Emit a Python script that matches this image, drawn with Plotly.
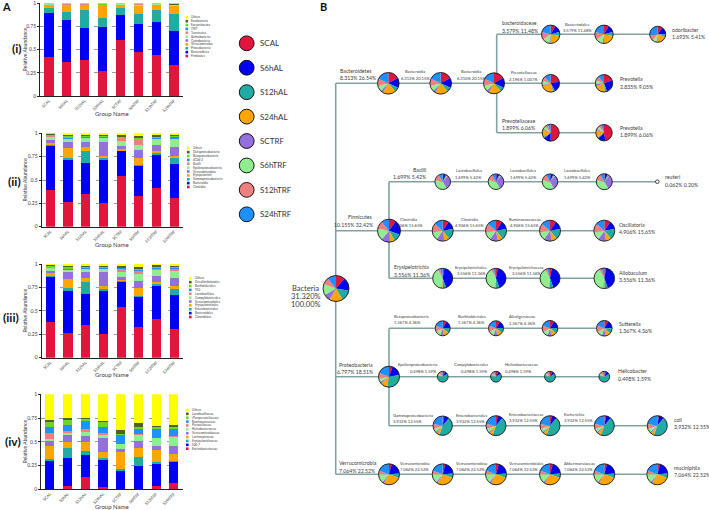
import plotly.graph_objects as go

W, H = 709, 510

# ---------------- data ----------------
GROUPS = ["SCAL", "S6hAL", "S12hAL", "S24hAL", "SCTRF", "S6hTRF", "S12hTRF", "S24hTRF"]
GROUP_COLORS = ["#E0163D", "#0000F5", "#20ABA3", "#FFA500", "#9370DB", "#90EE90", "#F08080", "#1E90FF"]
EXTRA_COLORS = ["#6FD42A", "#4E6228", "#FFFF00"]
TAXON_COLORS = GROUP_COLORS + EXTRA_COLORS

Y_TICK_VALS = [0, 0.25, 0.5, 0.75, 1]
Y_TICK_TEXT = ["0", "0.25", "0.5", "0.75", "1"]
PANEL_TITLES = ["(i)", "(ii)", "(iii)", "(iv)"]

# (i) phylum level, bottom -> top
PHYLUM_NAMES = ["Firmicutes", "Bacteroidetes", "Proteobacteria", "Verrucomicrobia", "Cyanobacteria",
                "Actinobacteria", "Tenericutes", "TM7", "Euryarchaeota", "Fusobacteria", "Others"]
PHYLUM_VALUES = [
    [0.42, 0.37, 0.39, 0.27, 0.60, 0.47, 0.44, 0.33],
    [0.48, 0.45, 0.34, 0.47, 0.27, 0.31, 0.36, 0.37],
    [0.05, 0.09, 0.20, 0.10, 0.08, 0.11, 0.13, 0.18],
    [0.035, 0.07, 0.05, 0.14, 0.03, 0.08, 0.05, 0.09],
    [0.002, 0.003, 0.003, 0.002, 0.002, 0.003, 0.003, 0.004],
    [0.004, 0.005, 0.004, 0.003, 0.012, 0.016, 0.008, 0.006],
    [0.003, 0.003, 0.004, 0.002, 0.002, 0.003, 0.003, 0.004],
    [0.002, 0.003, 0.003, 0.002, 0.001, 0.002, 0.002, 0.003],
    [0.001, 0.002, 0.002, 0.001, 0.001, 0.002, 0.001, 0.002],
    [0.002, 0.003, 0.003, 0.006, 0.001, 0.002, 0.002, 0.008],
    [0.001, 0.001, 0.001, 0.004, 0.001, 0.002, 0.001, 0.003],
]

# (ii) class level
CLASS_NAMES = ["Clostridia", "Bacteroidia", "Gammaproteobacteria", "Erysipelotrichi", "Verrucomicrobiae",
               "Epsilonproteobacteria", "Bacilli", "4C0d-2", "Betaproteobacteria", "Deltaproteobacteria", "Others"]
CLASS_VALUES = [
    [0.39, 0.26, 0.35, 0.25, 0.54, 0.33, 0.41, 0.31],
    [0.48, 0.45, 0.33, 0.47, 0.27, 0.32, 0.36, 0.36],
    [0.01, 0.03, 0.13, 0.02, 0.005, 0.01, 0.02, 0.07],
    [0.02, 0.10, 0.04, 0.02, 0.015, 0.08, 0.02, 0.02],
    [0.03, 0.07, 0.06, 0.15, 0.03, 0.08, 0.06, 0.09],
    [0.03, 0.03, 0.04, 0.04, 0.06, 0.06, 0.07, 0.09],
    [0.01, 0.005, 0.005, 0.005, 0.03, 0.05, 0.005, 0.005],
    [0.005, 0.005, 0.005, 0.005, 0.005, 0.005, 0.005, 0.015],
    [0.005, 0.02, 0.01, 0.01, 0.005, 0.01, 0.01, 0.01],
    [0.01, 0.01, 0.01, 0.01, 0.02, 0.025, 0.02, 0.01],
    [0.01, 0.02, 0.02, 0.02, 0.02, 0.03, 0.02, 0.02],
]

# (iii) order level
ORDER_NAMES = ["Clostridiales", "Bacteroidales", "Enterobacteriales", "Erysipelotrichales", "Verrucomicrobiales",
               "Campylobacterales", "Lactobacillales", "YS2", "Burkholderiales", "Desulfovibrionales", "Others"]
ORDER_VALUES = [
    [0.38, 0.26, 0.35, 0.25, 0.54, 0.33, 0.41, 0.31],
    [0.49, 0.45, 0.33, 0.47, 0.27, 0.32, 0.36, 0.36],
    [0.01, 0.03, 0.13, 0.02, 0.01, 0.01, 0.02, 0.07],
    [0.02, 0.10, 0.04, 0.02, 0.01, 0.08, 0.02, 0.02],
    [0.03, 0.07, 0.06, 0.15, 0.03, 0.08, 0.06, 0.09],
    [0.03, 0.03, 0.04, 0.04, 0.05, 0.07, 0.07, 0.08],
    [0.01, 0.005, 0.005, 0.005, 0.04, 0.04, 0.01, 0.02],
    [0.005, 0.005, 0.005, 0.005, 0.01, 0.01, 0.01, 0.01],
    [0.005, 0.02, 0.01, 0.01, 0.005, 0.01, 0.01, 0.01],
    [0.01, 0.01, 0.01, 0.01, 0.02, 0.02, 0.02, 0.01],
    [0.01, 0.02, 0.02, 0.02, 0.015, 0.03, 0.01, 0.02],
]

# (iv) family level
FAMILY_NAMES = ["Enterobacteriaceae", "S24-7", "Erysipelotrichaceae", "Lachnospiraceae", "Verrucomicrobiaceae",
                "Helicobacteraceae", "Prevotellaceae", "Ruminococcaceae", "[Paraprevotellaceae]",
                "Lactobacillaceae", "Others"]
FAMILY_VALUES = [
    [0.00, 0.03, 0.13, 0.02, 0.00, 0.00, 0.03, 0.07],
    [0.30, 0.30, 0.23, 0.29, 0.19, 0.25, 0.24, 0.22],
    [0.02, 0.10, 0.04, 0.02, 0.02, 0.09, 0.02, 0.01],
    [0.14, 0.07, 0.10, 0.06, 0.18, 0.09, 0.12, 0.07],
    [0.05, 0.07, 0.06, 0.15, 0.03, 0.08, 0.05, 0.09],
    [0.02, 0.02, 0.05, 0.03, 0.06, 0.06, 0.08, 0.09],
    [0.06, 0.02, 0.02, 0.02, 0.00, 0.01, 0.00, 0.01],
    [0.07, 0.07, 0.09, 0.07, 0.09, 0.06, 0.10, 0.07],
    [0.05, 0.05, 0.02, 0.05, 0.01, 0.02, 0.02, 0.03],
    [0.02, 0.02, 0.01, 0.01, 0.04, 0.04, 0.01, 0.02],
    [0.27, 0.25, 0.25, 0.28, 0.38, 0.30, 0.33, 0.32],
]

CHARTS = [(PHYLUM_NAMES, PHYLUM_VALUES), (CLASS_NAMES, CLASS_VALUES),
          (ORDER_NAMES, ORDER_VALUES), (FAMILY_NAMES, FAMILY_VALUES)]

# pie shares per group (panel B)
PIE_BACTERIA = [40, 60, 50, 60, 30, 50, 30, 40]
PIE_BACTEROIDETES = [60, 55, 25, 70, 15, 30, 40, 65]
PIE_BACTEROIDACEAE = [30, 45, 25, 80, 10, 45, 50, 75]
PIE_ODORIBACTER = [35, 55, 20, 70, 10, 30, 40, 100]
PIE_PREVOTELLACEAE_A = [80, 70, 15, 85, 10, 25, 30, 45]
PIE_PREVOTELLA_A = [70, 90, 15, 75, 15, 25, 30, 40]
PIE_PREVOTELLACEAE_B = [180, 50, 10, 50, 10, 20, 20, 20]
PIE_PREVOTELLA_B = [170, 55, 10, 55, 10, 20, 20, 20]
PIE_FIRMICUTES = [35, 75, 40, 25, 45, 60, 40, 40]
PIE_BACILLI = [5, 20, 10, 5, 110, 130, 50, 30]
PIE_REUTERI = [5, 20, 10, 5, 110, 130, 50, 30]
PIE_CLOSTRIDIA = [35, 45, 60, 30, 45, 45, 50, 50]
PIE_ERYSIPELOTRICHIA = [10, 150, 20, 5, 5, 140, 15, 15]
PIE_BETAPROTEO = [30, 60, 40, 40, 30, 40, 50, 70]
PIE_PROTEOBACTERIA = [20, 60, 110, 40, 10, 20, 30, 70]
PIE_EPSILON = [25, 35, 220, 10, 10, 10, 30, 20]
PIE_GAMMA = [10, 30, 160, 20, 10, 20, 30, 80]
PIE_VERRUCO = [15, 70, 25, 100, 10, 50, 20, 70]

TREE_NAMES = ["Bacteria", "Bacteroidetes", "Bacteroidia", "Bacteroidia", "bacteroidaceae", "Bacteriodales",
              "odoribacter", "Prevotellaceae", "Prevotella", "Prevotellaceae", "Prevotella",
              "Firmicutes", "Bacilli", "Lactobacillales", "Lactobacillales", "Lactobacillales", "reuteri",
              "Clostridia", "Clostridia", "Ruminococcaceae", "Oscillatoria",
              "Erysipelotrichia", "Erysipelotrichales", "Erysipelotrichaceae", "Allobaculum",
              "Betaproteobacteria", "Burkholderiales", "Alcaligenaceae", "Sutterella",
              "Proteobacteria", "Epsilonproteobacteria", "Campylobacterales", "Helicobacteraceae", "Helicobacter",
              "Gammaproteobacteria", "Enterobacteriales", "Enterobacteriaceae", "Escherichia", "coli",
              "Verrucomicrobia", "Verrucomicrobia", "Verrucomicrobiae", "Verrucomicrobiales",
              "Akkermansiaceae", "muciniphila"]
TREE_PCTS = ["31.320%<br>100.00%", "8.313% 26.54%", "6.313% 20.15%", "6.310% 20.15%", "3.579% 11.48%",
             "3.579% 11.48%", "1.693% 5.41%", "2.196% 1.007%", "2.835% 9.05%", "1.899% 6.06%", "1.899% 6.06%",
             "10.155% 32.42%", "1.699% 5.42%", "1.699% 5.42%", "1.699% 5.42%", "1.699% 5.42%", "0.062% 0.20%",
             "4.906% 15.65%", "4.906% 15.65%", "4.906% 15.65%", "4.906% 15.65%",
             "3.556% 11.36%", "3.556% 11.36%", "3.556% 11.36%", "3.556% 11.36%",
             "1.367% 4.36%", "1.367% 4.36%", "1.367% 4.36%", "1.367% 4.36%",
             "6.797% 18.51%", "0.498% 1.59%", "0.498% 1.59%", "0.498% 1.59%", "0.498% 1.59%",
             "3.932% 12.55%", "3.932% 12.55%", "3.932% 12.55%", "3.932% 12.55%", "3.932% 12.55%",
             "7.064% 22.52%", "7.064% 22.52%", "7.064% 22.52%", "7.064% 22.52%", "7.064% 22.52%", "7.064% 22.52%"]
TREE_SHARES = [PIE_BACTERIA, PIE_BACTEROIDETES, PIE_BACTEROIDETES, PIE_BACTEROIDETES, PIE_BACTEROIDACEAE,
               PIE_BACTEROIDACEAE, PIE_ODORIBACTER, PIE_PREVOTELLACEAE_A, PIE_PREVOTELLA_A,
               PIE_PREVOTELLACEAE_B, PIE_PREVOTELLA_B,
               PIE_FIRMICUTES, PIE_BACILLI, PIE_BACILLI, PIE_BACILLI, PIE_BACILLI, PIE_REUTERI,
               PIE_CLOSTRIDIA, PIE_CLOSTRIDIA, PIE_CLOSTRIDIA, PIE_CLOSTRIDIA,
               PIE_ERYSIPELOTRICHIA, PIE_ERYSIPELOTRICHIA, PIE_ERYSIPELOTRICHIA, PIE_ERYSIPELOTRICHIA,
               PIE_BETAPROTEO, PIE_BETAPROTEO, PIE_BETAPROTEO, PIE_BETAPROTEO,
               PIE_PROTEOBACTERIA, PIE_EPSILON, PIE_EPSILON, PIE_EPSILON, PIE_EPSILON,
               PIE_GAMMA, PIE_GAMMA, PIE_GAMMA, PIE_GAMMA, PIE_GAMMA,
               PIE_VERRUCO, PIE_VERRUCO, PIE_VERRUCO, PIE_VERRUCO, PIE_VERRUCO, PIE_VERRUCO]

# ---------------- layout helpers (pixel -> paper) ----------------
def px(x):
    return x / W


def py(y):
    return 1 - y / H


FONT = "Lato"
TXT = "#3a3a3a"
fig = go.Figure()
shapes = []
annotations = []
layout_axes = {}


def add_text(x, y, text, size, xanchor="center", yanchor="middle", color=TXT, angle=0, family=FONT):
    annotations.append(dict(x=px(x), y=py(y), xref="paper", yref="paper", text=text, showarrow=False,
                            xanchor=xanchor, yanchor=yanchor, textangle=angle,
                            font=dict(size=size, color=color, family=family)))


# ---------------- panel A: stacked bars ----------------
CHART_BOX = [(40, 183, 3.3, 96), (41.5, 183, 133.3, 226.7), (41.5, 183, 264, 357.7), (41, 182.7, 394.3, 489.3)]
LEGEND_POS = [(185.5, 17.3), (187, 148.3), (189, 278.3), (186, 410)]
GROUPNAME_Y = [113.3, 244, 374, 506.5]
ROMAN_POS = [(16.7, 48.3), (15, 181.7), (11, 317.7), (13.3, 441.7)]

for k, ((names, vals), (x0, x1, yt, yb)) in enumerate(zip(CHARTS, CHART_BOX)):
    xa = "x" if k == 0 else f"x{k + 1}"
    ya = "y" if k == 0 else f"y{k + 1}"
    for i, (nm, v) in enumerate(zip(names, vals)):
        fig.add_trace(go.Bar(x=GROUPS, y=v, name=nm, marker=dict(color=TAXON_COLORS[i], line=dict(width=0)),
                             xaxis=xa, yaxis=ya, showlegend=False))
    xkey = "xaxis" if k == 0 else f"xaxis{k + 1}"
    ykey = "yaxis" if k == 0 else f"yaxis{k + 1}"
    layout_axes[xkey] = dict(domain=[px(x0), px(x1)], anchor=ya, showline=True, linecolor="#222",
                             linewidth=0.8, ticks="", tickangle=-45, showgrid=False, automargin=False,
                             tickfont=dict(size=4, color=TXT, family=FONT), categoryorder="array",
                             categoryarray=GROUPS)
    layout_axes[ykey] = dict(domain=[py(yb), py(yt)], anchor=xa, range=[0, 1], tickvals=Y_TICK_VALS,
                             ticktext=Y_TICK_TEXT, showline=True, linecolor="#222", linewidth=0.8,
                             ticks="outside", ticklen=2, tickwidth=0.6, tickcolor="#222", automargin=False,
                             tickfont=dict(size=5, color=TXT, family=FONT), showgrid=True,
                             gridcolor="#9a9a9a", griddash="dash", gridwidth=0.6, zeroline=False)
    # axis titles
    add_text(24.5, (yt + yb) / 2, "Relative Abundance", 5, angle=-90)
    add_text((x0 + x1) / 2, GROUPNAME_Y[k], "Group Name", 6)
    add_text(ROMAN_POS[k][0], ROMAN_POS[k][1], f"<b>{PANEL_TITLES[k]}</b>", 12, color="#111")
    # tiny legend (top -> bottom = reversed stacking order)
    lx, ly = LEGEND_POS[k]
    step = 3.87
    for j, idx in enumerate(reversed(range(len(names)))):
        cy = ly + j * step
        shapes.append(dict(type="rect", xref="paper", yref="paper", x0=px(lx), x1=px(lx + 2.6),
                           y0=py(cy + 1.3), y1=py(cy - 1.3), fillcolor=TAXON_COLORS[idx],
                           line=dict(width=0)))
        add_text(lx + 4, cy, names[idx], 3, xanchor="left")

add_text(6.7, 6.5, "<b>A</b>", 11, color="#111")
add_text(323.5, 7, "<b>B</b>", 11, color="#111")

# ---------------- group legend (middle) ----------------
for i, (g, c) in enumerate(zip(GROUPS, GROUP_COLORS)):
    cx, cy, r = 246.7, 43.3 + i * 24.43, 7.4
    shapes.append(dict(type="circle", xref="paper", yref="paper", x0=px(cx - r), x1=px(cx + r),
                       y0=py(cy + r), y1=py(cy - r), fillcolor=c, line=dict(color="#111", width=1)))
    add_text(258, cy, g, 8, xanchor="left", color="#333")

# ---------------- panel B: tree ----------------
LINE_COLOR = "#83A1A1"
TREE_SEGMENTS = [
    ((335.7, 83.3), (335.7, 474.3)),
    ((335.7, 83.3), (496.7, 83.3)),
    ((496.7, 34.3), (496.7, 132.7)),
    ((496.7, 34.3), (657.7, 34.3)),
    ((496.7, 83.3), (604, 83.3)),
    ((496.7, 132.7), (604, 132.7)),
    ((335.7, 230.7), (604.3, 230.7)),
    ((389, 181.7), (389, 278.3)),
    ((389, 181.7), (657.3, 181.7)),
    ((389, 278.3), (604.3, 278.3)),
    ((389, 328.3), (389, 425.7)),
    ((389, 328.3), (604.3, 328.3)),
    ((335.7, 376.7), (604.3, 376.7)),
    ((389, 425.7), (657.3, 425.7)),
    ((335.7, 474.3), (657.3, 474.3)),
]
for (ax, ay), (bx, by) in TREE_SEGMENTS:
    shapes.append(dict(type="line", xref="paper", yref="paper", x0=px(ax), y0=py(ay), x1=px(bx), y1=py(by),
                       line=dict(color=LINE_COLOR, width=1.6), layer="below"))

NODE_XY = [(336, 288.5), (388.3, 83.3), (440.7, 83.3), (494, 83.3), (550.7, 34.3), (604, 34.3), (657.7, 34.3),
           (550.7, 83.3), (604, 83.3), (550.7, 132.7), (604, 132.7),
           (389, 230.7), (442.7, 181.7), (496, 181.7), (550, 181.7), (604.3, 181.7), (657.3, 181.7),
           (442.7, 230.7), (496, 230.7), (550, 230.7), (604.3, 230.7),
           (442.7, 278.3), (496, 278.3), (550, 278.3), (604.3, 278.3),
           (442.7, 328.3), (496, 328.3), (550, 328.3), (604.3, 328.3),
           (389, 376.7), (442.7, 376.7), (496, 376.7), (550, 376.7), (604.3, 376.7),
           (442.7, 425.7), (496, 425.7), (550, 425.7), (604.3, 425.7), (657.3, 425.7),
           (389, 474.3), (442.7, 474.3), (496, 474.3), (550, 474.3), (604.3, 474.3), (657.3, 474.3)]
NODE_R = [13, 10.8, 10.8, 10.5, 9.2, 9.2, 8.0, 8.8, 8.7, 8.5, 8.2,
          11.5, 7.8, 7.8, 7.8, 8.0, 1.8,
          10.5, 10.5, 10.5, 10.5,
          10.0, 10.0, 10.0, 10.3,
          7.5, 7.5, 7.8, 7.8,
          10.5, 5.4, 5.4, 5.4, 5.4,
          9.7, 10, 10, 10, 10,
          10.5, 10.5, 10.5, 10.5, 10.5, 10.5]
# label: (anchor, x, y of first line, big?)
LABEL_POS = [None, ("left", 337.5, 71, 1), ("center", 415, 72, 0), ("center", 471, 72, 0),
             ("left", 500, 23.3, 1), ("center", 577, 24, 0), ("left", 670, 30, 1),
             ("center", 523.5, 72.7, 0), ("left", 618, 79.3, 1), ("left", 500, 120.7, 1), ("left", 618, 127.7, 1),
             ("right", 375.5, 217.3, 1), ("right", 428, 170, 1), ("center", 468.5, 170.7, 0),
             ("center", 523, 170.7, 0), ("center", 577, 170.7, 0), ("left", 663, 177.3, 1),
             ("center", 408, 219, 0), ("center", 469, 219, 0), ("center", 524.5, 219, 0), ("left", 616.7, 225, 1),
             ("left", 392, 267.3, 1), ("center", 471, 267, 0), ("center", 526, 267, 0), ("left", 617, 273, 1),
             ("left", 392, 316, 0), ("left", 456, 316, 0), ("left", 507, 316.7, 0), ("left", 617, 324, 1),
             ("right", 375.5, 365, 1), ("right", 439, 364.7, 0), ("right", 490, 364.7, 0),
             ("left", 503, 364.7, 0), ("left", 616, 371.3, 1),
             ("left", 391, 415, 0), ("left", 454, 415, 0), ("left", 507, 414, 0), ("left", 562, 414, 0),
             ("left", 671.7, 420, 1),
             ("left", 337, 463.3, 1), ("center", 414, 463, 0), ("left", 454, 463, 0), ("left", 507, 463, 0),
             ("left", 562, 463, 0), ("left", 671.7, 467.7, 1)]

for i, (name, pct, share) in enumerate(zip(TREE_NAMES, TREE_PCTS, TREE_SHARES)):
    cx, cy = NODE_XY[i]
    r = NODE_R[i]
    if r > 3:
        fig.add_trace(go.Pie(values=share, labels=GROUPS, sort=False, direction="clockwise", rotation=0,
                             marker=dict(colors=GROUP_COLORS, line=dict(width=0)), textinfo="none",
                             hoverinfo="label+percent", showlegend=False,
                             domain=dict(x=[px(cx - r), px(cx + r)], y=[py(cy + r), py(cy - r)])))
        shapes.append(dict(type="circle", xref="paper", yref="paper", x0=px(cx - r), x1=px(cx + r),
                           y0=py(cy + r), y1=py(cy - r), line=dict(color="#1a1a1a", width=0.9), layer="above"))
    else:
        shapes.append(dict(type="circle", xref="paper", yref="paper", x0=px(cx - r), x1=px(cx + r),
                           y0=py(cy + r), y1=py(cy - r), fillcolor="white",
                           line=dict(color="#333", width=0.9), layer="above"))
    if i == 0:
        add_text(305.5, 288.3, name, 7.5)
        add_text(305.5, 296.5, "31.320%", 7.5)
        add_text(305.5, 304.5, "100.00%", 7.5)
        continue
    anchor, lx, ly, big = LABEL_POS[i]
    size = 5.2 if big else 4.1
    gap = 7.3 if big else 6.7
    add_text(lx, ly, name, size, xanchor=anchor)
    add_text(lx, ly + gap, pct, size, xanchor=anchor)

fig.update_layout(width=W, height=H, margin=dict(l=0, r=0, t=0, b=0, pad=0), barmode="stack", bargap=0.48,
                  plot_bgcolor="white", paper_bgcolor="white", shapes=shapes, annotations=annotations,
                  showlegend=False, font=dict(family=FONT), **layout_axes)

fig.write_html("out.html", config={"displayModeBar": False},
               post_script="document.body.style.margin='0';document.body.style.overflow='hidden';")
